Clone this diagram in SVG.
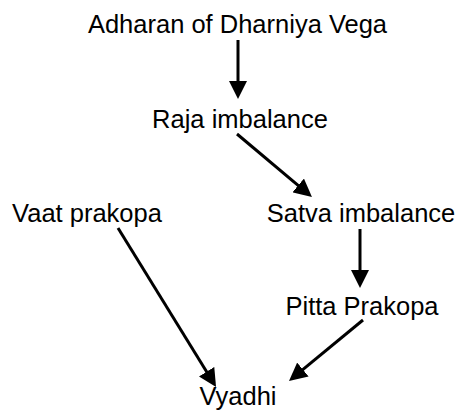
<svg xmlns="http://www.w3.org/2000/svg" width="461" height="411" viewBox="0 0 461 411">
<style>
text{font-family:"Liberation Sans",Arial,sans-serif;font-size:25.5px;fill:#000;text-anchor:middle}
.c line{stroke:#000;stroke-width:3;marker-end:url(#ah)}
</style>
<defs>
<marker id="ah" markerUnits="userSpaceOnUse" markerWidth="18" markerHeight="18" refX="8" refY="9" orient="auto">
<path d="M0,0 L18,9 L0,18 z" fill="#000"/>
</marker>
</defs>
<rect width="461" height="411" fill="#fff"/>
<g id="n1"><text x="237.5" y="33">Adharan of Dharniya Vega</text></g>
<g id="n2"><text x="240" y="128">Raja imbalance</text></g>
<g id="n3"><text x="87" y="221.5">Vaat prakopa</text></g>
<g id="n4"><text x="361" y="221.5">Satva imbalance</text></g>
<g id="n5"><text x="362" y="315">Pitta Prakopa</text></g>
<g id="n6"><text x="238" y="405">Vyadhi</text></g>
<g class="c" id="connectors">
<line x1="238" y1="40" x2="238" y2="89"/>
<line x1="237" y1="134" x2="304.3" y2="190.6"/>
<line x1="360" y1="229" x2="360" y2="278"/>
<line x1="363" y1="320" x2="296.7" y2="374.6"/>
<line x1="118" y1="228" x2="210.8" y2="378.5"/>
</g>
</svg>
